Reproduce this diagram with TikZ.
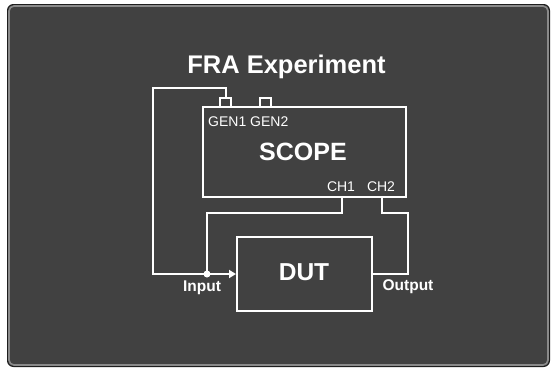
\documentclass[tikz,border=0pt]{standalone}
\usepackage{fontspec}
\setmainfont{Liberation Sans}
\usetikzlibrary{arrows.meta}
\definecolor{panel}{HTML}{414141}
\definecolor{rim}{HTML}{8A8A8A}
\definecolor{rimdark}{HTML}{1E1E1E}
\begin{document}
\begin{tikzpicture}[x=1pt,y=-1pt,
  wire/.style={white,line width=2pt},
  boxw/.style={draw=white,line width=2pt},
  big/.style={text=white,font=\bfseries\fontsize{25}{29}\selectfont,inner sep=0pt},
  small/.style={text=white,font=\fontsize{14}{16}\selectfont,inner sep=0pt},
  lab/.style={text=white,font=\bfseries\fontsize{15.5}{17}\selectfont,inner sep=0pt}]
\useasboundingbox (0,0) rectangle (553,368);
\fill[white] (0,0) rectangle (553,368);
\draw[rimdark,line width=1pt,fill=panel,rounded corners=6pt] (7.5,4.5) rectangle (549.5,366.5);
\draw[rim,line width=1.6pt,rounded corners=5pt] (9,6) rectangle (548,365);
% title
\node[big,font=\bfseries\fontsize{25.5}{29}\selectfont] (title) at (286.5,67) {FRA Experiment};
% scope
\draw[boxw] (203,107) rectangle (406,197);
\node[big] (scope) at (303,152) {SCOPE};
\node[small,anchor=west] (gens) at (208,121.5) {GEN1 GEN2};
\node[small] (ch1) at (341,187) {CH1};
\node[small] (ch2) at (381,187) {CH2};
% generator ports
\draw[boxw] (220,98) rectangle (231,107);
\draw[boxw] (260,98) rectangle (271,107);
\coordinate (g1) at (225.5,98);
% DUT
\draw[boxw] (237,237) rectangle (372,311);
\node[big,font=\bfseries\fontsize{24.5}{29}\selectfont] (dut) at (304,272) {DUT};
\node[lab] (inlab) at (202,288) {Input};
\node[lab] (outlab) at (408,287) {Output};
\coordinate (dutin) at (236,274);
\coordinate (dutout) at (372,274);
\coordinate (junc) at (207,274);
\coordinate (c1) at (342,197);
\coordinate (c2) at (382,197);
% wires
\draw[wire,-{Triangle[length=7pt,width=8pt]}] (g1) -- (225.5,88) -- (153,88) -- (153,274) -- (dutin);
\draw[wire] (c1) -- (342,213) -- (207,213) -- (junc);
\fill[white] (junc) circle (3.5pt);
\draw[wire] (c2) -- (382,213) -- (408,213) -- (408,274) -- (dutout);
\end{tikzpicture}
\end{document}
